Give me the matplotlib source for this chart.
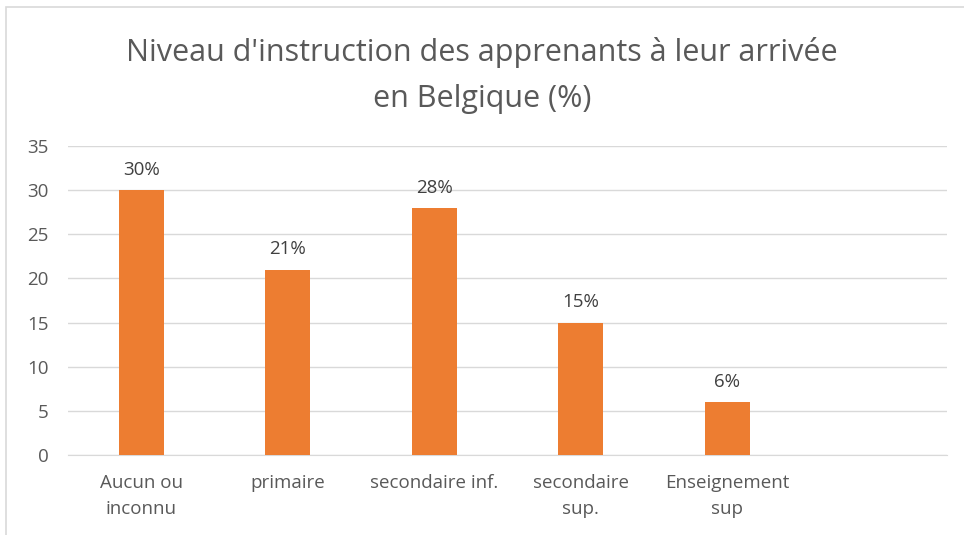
import matplotlib.pyplot as plt
from matplotlib.patches import Rectangle

# data
categories = ["Aucun ou\ninconnu", "primaire", "secondaire inf.", "secondaire\nsup.", "Enseignement\nsup", ""]
values = [30, 21, 28, 15, 6, None]
labels = ["30%", "21%", "28%", "15%", "6%", ""]
yticks = [0, 5, 10, 15, 20, 25, 30, 35]

plt.rcParams['font.family'] = ['Open Sans', 'DejaVu Sans']
text_col = "#595959"
bar_col = "#ED7D31"
grid_col = "#D9D9D9"

fig = plt.figure(figsize=(9.64, 5.35), dpi=100)
W, H = 964, 535
ax = fig.add_axes([68 / W, 1 - 455 / H, (947 - 68) / W, (455 - 146) / H])

x = list(range(len(categories)))
shown = [i for i in x if values[i] is not None]
bars = ax.bar(shown, [values[i] for i in shown], width=0.31, color=bar_col, zorder=3)

for i, b in zip(shown, bars):
    ax.annotate(labels[i], (b.get_x() + b.get_width() / 2, b.get_height()),
                xytext=(0, 8), textcoords="offset points", ha="center", va="bottom",
                fontsize=13.5, color="#404040")

ax.set_xlim(-0.5, len(categories) - 0.5)
ax.set_ylim(0, 35)
ax.set_yticks(yticks)
ax.set_xticks(x)
ax.set_xticklabels(categories, fontsize=13.5, color=text_col, linespacing=1.55, va="top")
ax.tick_params(axis="y", labelsize=13.5, labelcolor=text_col, length=0, pad=14)
ax.tick_params(axis="x", length=0, pad=14)
ax.grid(axis="y", color=grid_col, linewidth=1, zorder=0)
for s in ["top", "right", "left"]:
    ax.spines[s].set_visible(False)
ax.spines["bottom"].set_color(grid_col)

fig.text(0.5, 1 - 53 / H, "Niveau d'instruction des apprenants à leur arrivée",
         ha="center", va="center", fontsize=22, color=text_col)
fig.text(0.5, 1 - 99 / H, "en Belgique (%)",
         ha="center", va="center", fontsize=22, color=text_col)

# chart frame (cropped at right and bottom)
fig.patches.append(Rectangle((6 / W, -0.1), 1.2, 1 - 7 / H + 0.1, transform=fig.transFigure,
                             fill=False, edgecolor=grid_col, linewidth=1.2))

fig.savefig("out.png", dpi=100)
